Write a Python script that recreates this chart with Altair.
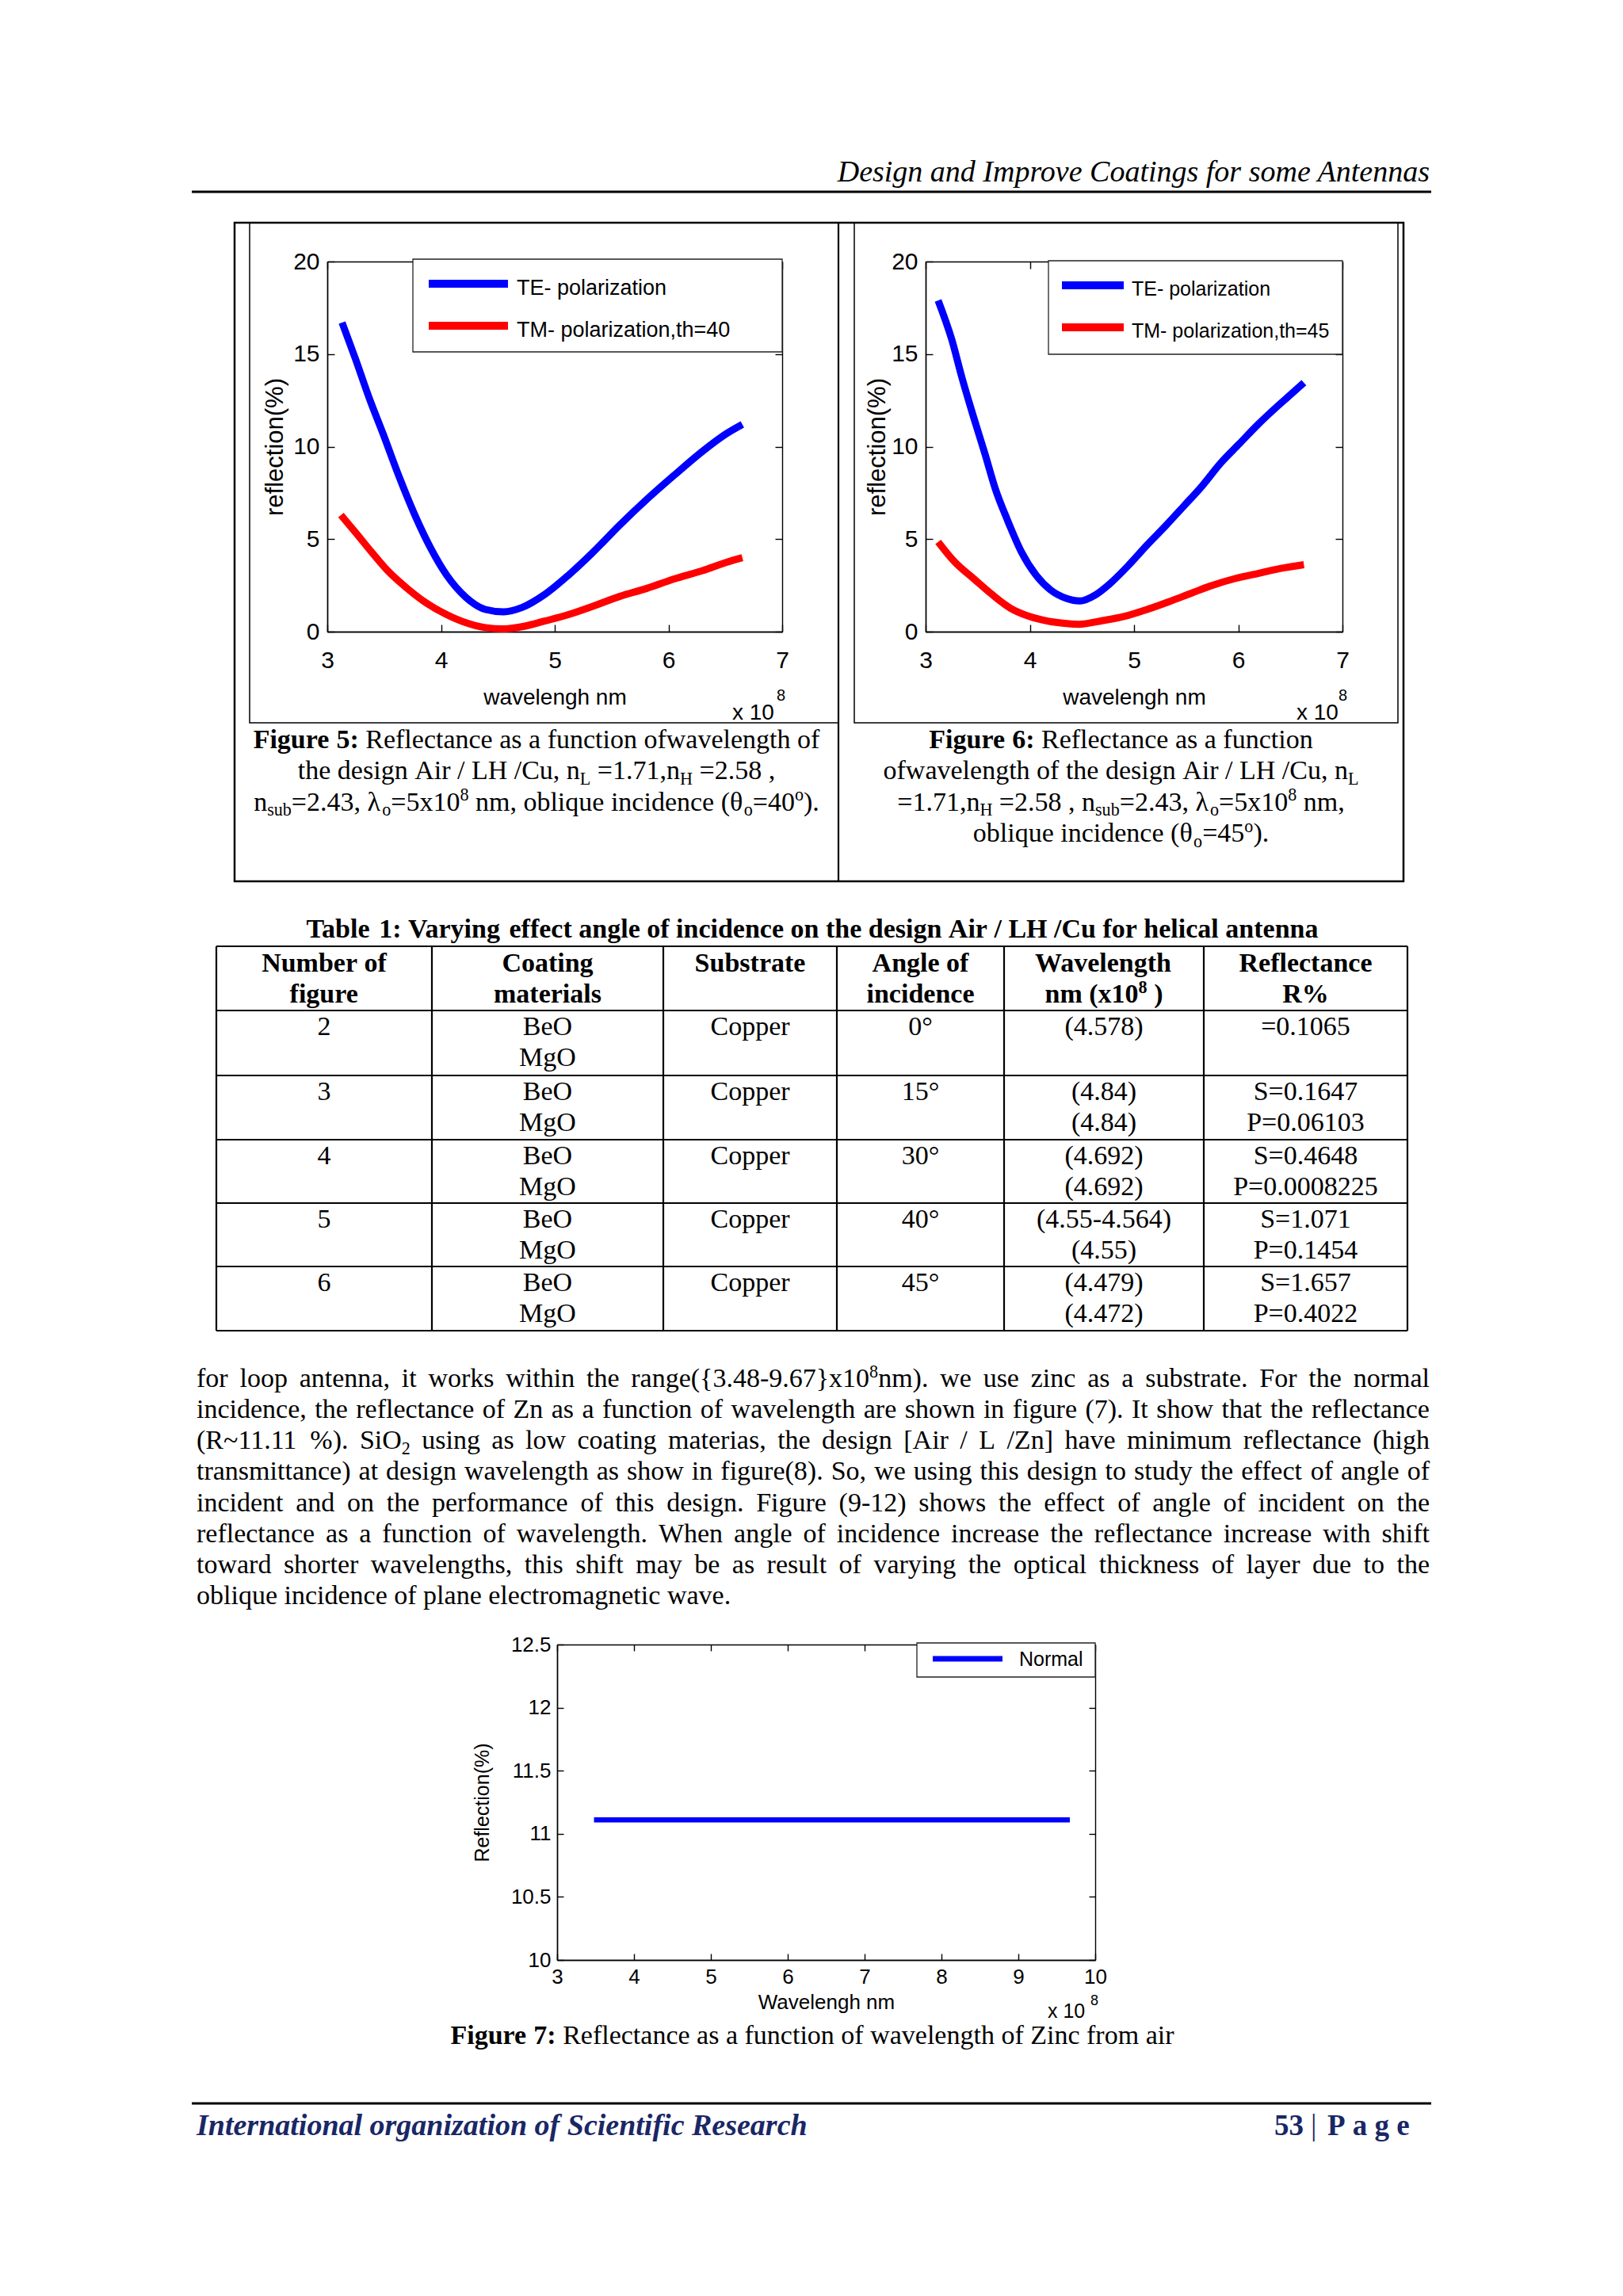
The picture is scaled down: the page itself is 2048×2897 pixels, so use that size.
import altair as alt
import pandas as pd

# ---------------- page geometry helpers ----------------
MARGIN = 8
VIEW_W, VIEW_H = 2032, 2881


def vx(x):
    return x - MARGIN


def vy(y):
    return y - MARGIN


SERIF = "Liberation Serif"
SANS = "Liberation Sans"
NAVY = "#1a2766"

# ---------------- data ----------------
SERIES = ["TE- polarization", "TM- polarization"]
SERIES_COLORS = ["#0000ff", "#ff0000"]

FIG5_TE_WL = [3.13, 3.25, 3.37, 3.49, 3.63, 3.77, 3.91, 4.05, 4.22, 4.39, 4.55, 4.71, 4.91, 5.12, 5.33, 5.57, 5.81, 6.05, 6.30, 6.51, 6.65]
FIG5_TE_R = [16.7, 14.7, 12.6, 10.7, 8.4, 6.3, 4.5, 3.05, 1.85, 1.2, 1.07, 1.3, 2.0, 3.05, 4.25, 5.75, 7.15, 8.45, 9.75, 10.7, 11.2]
FIG5_TM_WL = [3.12, 3.25, 3.39, 3.53, 3.70, 3.87, 4.05, 4.22, 4.39, 4.55, 4.74, 4.91, 5.12, 5.33, 5.57, 5.81, 6.05, 6.30, 6.51, 6.65]
FIG5_TM_R = [6.3, 5.35, 4.3, 3.3, 2.35, 1.55, 0.92, 0.48, 0.22, 0.15, 0.3, 0.57, 0.92, 1.36, 1.9, 2.34, 2.85, 3.3, 3.75, 4.0]

FIG6_TE_WL = [3.12, 3.25, 3.35, 3.46, 3.57, 3.67, 3.78, 3.92, 4.06, 4.20, 4.35, 4.48, 4.63, 4.77, 4.95, 5.12, 5.30, 5.48, 5.65, 5.83, 6.01, 6.19, 6.36, 6.50, 6.63]
FIG6_TE_R = [17.9, 15.8, 13.7, 11.6, 9.6, 7.7, 6.1, 4.3, 3.05, 2.25, 1.8, 1.66, 1.99, 2.6, 3.6, 4.65, 5.7, 6.8, 7.85, 9.1, 10.15, 11.2, 12.1, 12.8, 13.45]
FIG6_TM_WL = [3.12, 3.28, 3.46, 3.64, 3.81, 3.99, 4.17, 4.35, 4.47, 4.70, 4.91, 5.12, 5.34, 5.55, 5.76, 5.97, 6.19, 6.40, 6.63]
FIG6_TM_R = [4.85, 3.76, 2.87, 2.0, 1.28, 0.83, 0.57, 0.44, 0.40, 0.60, 0.83, 1.19, 1.63, 2.08, 2.52, 2.87, 3.14, 3.41, 3.62]

FIG7_WL = [3.48, 9.67]
FIG7_R = [11.11, 11.11]

X_TICKS_56 = [3, 4, 5, 6, 7]
Y_TICKS_56 = [0, 5, 10, 15, 20]
X_TICKS_7 = [3, 4, 5, 6, 7, 8, 9, 10]
Y_TICKS_7 = [10, 10.5, 11, 11.5, 12, 12.5]

TABLE_HEADER = [["Number of", "figure"], ["Coating", "materials"], ["Substrate"],
                ["Angle of", "incidence"], ["Wavelength", "nm (x10^{8} )"], ["Reflectance", "R%"]]
TABLE_FIG = ["2", "3", "4", "5", "6"]
TABLE_COATING = [["BeO", "MgO"]] * 5
TABLE_SUBSTRATE = ["Copper"] * 5
TABLE_ANGLE = ["0°", "15°", "30°", "40°", "45°"]
TABLE_WAVELENGTH = [["(4.578)"], ["(4.84)", "(4.84)"], ["(4.692)", "(4.692)"],
                    ["(4.55-4.564)", "(4.55)"], ["(4.479)", "(4.472)"]]
TABLE_REFL = [["=0.1065"], ["S=0.1647", "P=0.06103"], ["S=0.4648", "P=0.0008225"],
              ["S=1.071", "P=0.1454"], ["S=1.657", "P=0.4022"]]

PARAGRAPH = [
    "for loop antenna, it works within the range({3.48-9.67}x10^{8}nm). we use zinc as a substrate. For the normal",
    "incidence, the reflectance of Zn as a function of wavelength are shown in figure (7). It show that the reflectance",
    "(R~11.11 %). SiO_{2} using as low coating materias, the design [Air / L /Zn]  have minimum reflectance (high",
    "transmittance) at design wavelength as show in figure(8). So, we using this design to study the effect of angle of",
    "incident and on the performance of this design. Figure (9-12) shows the effect of angle of incident on the",
    "reflectance as a function of wavelength. When angle of incidence increase the reflectance increase with shift",
    "toward shorter wavelengths, this shift may be as result of varying the optical thickness of layer due to the",
    "oblique incidence of plane electromagnetic wave.",
]

CAP5 = ["**Figure 5:** Reflectance as a function ofwavelength of",
        "the design Air / LH /Cu, n_{L} =1.71,n_{H} =2.58 ,",
        "n_{sub}=2.43, λ_{o}=5x10^{8} nm, oblique incidence (θ_{o}=40^{o})."]
CAP6 = ["**Figure 6:** Reflectance as a function",
        "ofwavelength of the design Air / LH /Cu, n_{L}",
        "=1.71,n_{H} =2.58 , n_{sub}=2.43, λ_{o}=5x10^{8} nm,",
        "oblique incidence (θ_{o}=45^{o})."]
CAP7 = "**Figure 7:** Reflectance as a function of wavelength of Zinc from air"
TABLE_TITLE = "**Table 1: Varying effect angle of incidence on the design Air / LH /Cu for helical antenna**"

# ---------------- simple text layout (Times metrics) ----------------
TR = {' ': 250, '!': 333, '"': 408, '%': 833, '&': 778, "'": 180, '(': 333, ')': 333, '*': 500, '+': 564,
      ',': 250, '-': 333, '.': 250, '/': 278, ':': 278, ';': 278, '<': 564, '=': 564, '>': 564, '?': 444,
      'A': 722, 'B': 667, 'C': 667, 'D': 722, 'E': 611, 'F': 556, 'G': 722, 'H': 722, 'I': 333, 'J': 389,
      'K': 722, 'L': 611, 'M': 889, 'N': 722, 'O': 722, 'P': 556, 'Q': 722, 'R': 667, 'S': 556, 'T': 611,
      'U': 722, 'V': 722, 'W': 944, 'X': 722, 'Y': 722, 'Z': 611, '[': 333, ']': 333,
      'a': 444, 'b': 500, 'c': 444, 'd': 500, 'e': 444, 'f': 333, 'g': 500, 'h': 500, 'i': 278, 'j': 278,
      'k': 500, 'l': 278, 'm': 778, 'n': 500, 'o': 500, 'p': 500, 'q': 500, 'r': 333, 's': 389, 't': 278,
      'u': 500, 'v': 500, 'w': 722, 'x': 500, 'y': 500, 'z': 444, '{': 480, '|': 200, '}': 480, '~': 541,
      '°': 400, 'λ': 549, 'θ': 521}
for d in "0123456789":
    TR[d] = 500
TB = {' ': 250, ':': 333, '(': 333, ')': 333, '.': 250, ',': 250, '%': 1000, '=': 570, '/': 278, '-': 333,
      'A': 722, 'B': 667, 'C': 722, 'D': 722, 'E': 667, 'F': 611, 'G': 778, 'H': 778, 'I': 389, 'L': 667,
      'M': 944, 'N': 722, 'O': 778, 'P': 611, 'R': 722, 'S': 556, 'T': 667, 'V': 722, 'W': 1000,
      'a': 500, 'b': 556, 'c': 444, 'd': 556, 'e': 444, 'f': 333, 'g': 500, 'h': 556, 'i': 278, 'j': 333,
      'k': 556, 'l': 278, 'm': 833, 'n': 556, 'o': 500, 'p': 556, 'q': 556, 'r': 444, 's': 389, 't': 333,
      'u': 556, 'v': 500, 'w': 722, 'x': 500, 'y': 500, 'z': 444}
for d in "0123456789":
    TB[d] = 500

SMALL = 0.65


def parse_markup(s):
    chars = []
    bold = False
    i = 0
    while i < len(s):
        if s.startswith("**", i):
            bold = not bold
            i += 2
            continue
        if s[i] in "^_" and i + 1 < len(s) and s[i + 1] == "{":
            j = s.index("}", i + 2)
            st = "sup" if s[i] == "^" else "sub"
            for ch in s[i + 2:j]:
                chars.append((ch, st, bold))
            i = j + 1
            continue
        chars.append((s[i], "base", bold))
        i += 1
    words, cur = [], []
    for ch, st, b in chars:
        if ch == " " and st == "base":
            if cur:
                words.append(cur)
                cur = []
        else:
            cur.append((ch, st, b))
    if cur:
        words.append(cur)
    out = []
    for w in words:
        segs = []
        for ch, st, b in w:
            if segs and segs[-1][1] == st and segs[-1][2] == b:
                segs[-1][0] += ch
            else:
                segs.append([ch, st, b])
        out.append(segs)
    return out


def seg_width(text, st, bold, size):
    tab = TB if bold else TR
    fs = size * (SMALL if st != "base" else 1.0)
    return sum(tab.get(c, TR.get(c, 500)) for c in text) / 1000.0 * fs


def layout(markup, x, y, size, align="left", justify_to=None, family=SERIF, color="black", italic=False):
    words = parse_markup(markup)
    ww = [sum(seg_width(t, st, b, size) for t, st, b in w) for w in words]
    space = 0.25 * size
    total = sum(ww) + space * (len(words) - 1)
    if justify_to is not None and len(words) > 1:
        gap = (justify_to - x - sum(ww)) / (len(words) - 1)
        start = x
    else:
        gap = space
        if align == "center":
            start = x - total / 2
        elif align == "right":
            start = x - total
        else:
            start = x
    rows = []
    cx = start
    for w, wl in zip(words, ww):
        for t, st, b in w:
            fs = size * (SMALL if st != "base" else 1.0)
            dy = -0.36 * size if st == "sup" else (0.2 * size if st == "sub" else 0.0)
            rows.append(dict(px=vx(cx), py=vy(y + dy), text=t, size=fs, bold=b,
                             family=family, italic=italic, color=color))
            cx += seg_width(t, st, b, size)
        cx += gap
    return rows


def text_layers(rows):
    df = pd.DataFrame(rows)
    layers = []
    for (fam, bold, ital, col), g in df.groupby(["family", "bold", "italic", "color"]):
        g = g[["px", "py", "text", "size"]].reset_index(drop=True)
        layers.append(
            alt.Chart(g).mark_text(align="left", baseline="alphabetic", font=fam,
                                   fontWeight="bold" if bold else "normal",
                                   fontStyle="italic" if ital else "normal", color=col)
            .encode(x=alt.X("px:Q", scale=None, axis=None),
                    y=alt.Y("py:Q", scale=None, axis=None),
                    text=alt.Text("text:N"),
                    size=alt.Size("size:Q", scale=None, legend=None))
        )
    return layers


# ---------------- collect text ----------------
rows = []
BODY = 34
for k, line in enumerate(CAP5):
    rows += layout(line, 677, 944 + 39.3 * k, BODY, align="center")
for k, line in enumerate(CAP6):
    rows += layout(line, 1414.5, 944 + 39.3 * k, BODY, align="center")
rows += layout(TABLE_TITLE, 1025, 1183, BODY, align="center")
COLS = [273, 545, 837, 1056, 1267, 1519, 1776]
ROWS = [1194, 1275, 1357, 1438, 1518, 1598, 1679]
centers = [(COLS[i] + COLS[i + 1]) / 2 for i in range(6)]
for c, lines in enumerate(TABLE_HEADER):
    for k, ln in enumerate(lines):
        rows += layout("**" + ln + "**", centers[c], ROWS[0] + 32 + 39 * k, BODY, align="center")
for r in range(5):
    cells = [[TABLE_FIG[r]], TABLE_COATING[r], [TABLE_SUBSTRATE[r]], [TABLE_ANGLE[r]],
             TABLE_WAVELENGTH[r], TABLE_REFL[r]]
    for c, lines in enumerate(cells):
        for k, ln in enumerate(lines):
            rows += layout(ln, centers[c], ROWS[r + 1] + 31 + 39 * k, BODY, align="center")
for k, line in enumerate(PARAGRAPH):
    jt = 1804 if k < len(PARAGRAPH) - 1 else None
    rows += layout(line, 248, 1750 + 39.15 * k, BODY, justify_to=jt)
rows += layout(CAP7, 1025, 2579, BODY, align="center")
rows += layout("**53**", 1608, 2694, 37, color=NAVY)
rows += layout("|", 1654, 2694, 37, color=NAVY)
rows += layout("**P a g e**", 1675, 2694, 37, color=NAVY)

# plot annotation texts (sans)
def srow(x, y, text, size):
    return dict(px=vx(x), py=vy(y), text=text, size=size, bold=False, family=SANS, italic=False, color="black")


srows = [
    srow(924, 908, "x 10", 28), srow(980, 884, "8", 20),
    srow(1636, 908, "x 10", 28), srow(1689, 884, "8", 20),
    srow(1322, 2546, "x 10", 25), srow(1376, 2530, "8", 18),
    srow(652, 372, "TE- polarization", 27), srow(652, 425, "TM- polarization,th=40", 27),
    srow(1428, 373, "TE- polarization", 25), srow(1428, 426, "TM- polarization,th=45", 25),
    srow(1286, 2102, "Normal", 25),
]

# ---------------- rules & rectangles ----------------
rule_rows = [
    dict(x=vx(242), x2=vx(1806), y=vy(242), y2=vy(242), sw=3),
    dict(x=vx(242), x2=vx(1806), y=vy(2654), y2=vy(2654), sw=3),
    dict(x=vx(1058), x2=vx(1058), y=vy(281), y2=vy(1112), sw=2.2),
]
for yy in ROWS:
    rule_rows.append(dict(x=vx(COLS[0]), x2=vx(COLS[-1]), y=vy(yy), y2=vy(yy), sw=2.2))
for xx in COLS:
    rule_rows.append(dict(x=vx(xx), x2=vx(xx), y=vy(ROWS[0]), y2=vy(ROWS[-1]), sw=2.2))
rules = alt.Chart(pd.DataFrame(rule_rows)).mark_rule(color="black").encode(
    x=alt.X("x:Q", scale=None, axis=None), x2="x2:Q",
    y=alt.Y("y:Q", scale=None, axis=None), y2="y2:Q",
    strokeWidth=alt.StrokeWidth("sw:Q", scale=None, legend=None))

rect_rows = [
    dict(x=vx(296), x2=vx(1771), y=vy(281), y2=vy(1112), sw=2.5),
    dict(x=vx(315), x2=vx(1058), y=vy(281), y2=vy(912), sw=1.5),
    dict(x=vx(1078), x2=vx(1764), y=vy(281), y2=vy(912), sw=1.5),
]
rects = alt.Chart(pd.DataFrame(rect_rows)).mark_rect(fillOpacity=0, stroke="black").encode(
    x=alt.X("x:Q", scale=None, axis=None), x2="x2:Q",
    y=alt.Y("y:Q", scale=None, axis=None), y2="y2:Q",
    strokeWidth=alt.StrokeWidth("sw:Q", scale=None, legend=None))

leg_box_rows = [
    dict(x=vx(521), x2=vx(987), y=vy(327), y2=vy(444)),
    dict(x=vx(1323), x2=vx(1694), y=vy(329), y2=vy(447)),
    dict(x=vx(1157), x2=vx(1382), y=vy(2073), y2=vy(2116)),
]
leg_boxes = alt.Chart(pd.DataFrame(leg_box_rows)).mark_rect(fill="white", stroke="#222222", strokeWidth=1.3).encode(
    x=alt.X("x:Q", scale=None, axis=None), x2="x2:Q",
    y=alt.Y("y:Q", scale=None, axis=None), y2="y2:Q")
leg_line_rows = [
    dict(x=vx(541), x2=vx(641), y=vy(358), c=SERIES_COLORS[0], sw=10),
    dict(x=vx(541), x2=vx(641), y=vy(411), c=SERIES_COLORS[1], sw=10),
    dict(x=vx(1340), x2=vx(1418), y=vy(360), c=SERIES_COLORS[0], sw=10),
    dict(x=vx(1340), x2=vx(1418), y=vy(413), c=SERIES_COLORS[1], sw=10),
    dict(x=vx(1177), x2=vx(1265), y=vy(2093), c=SERIES_COLORS[0], sw=7),
]
leg_lines = alt.Chart(pd.DataFrame(leg_line_rows)).mark_rule(strokeCap="butt").encode(
    x=alt.X("x:Q", scale=None, axis=None), x2="x2:Q",
    y=alt.Y("y:Q", scale=None, axis=None),
    color=alt.Color("c:N", scale=None, legend=None),
    strokeWidth=alt.StrokeWidth("sw:Q", scale=None, legend=None))


# ---------------- plot panels ----------------
def panel(df, xdom, ydom, px0, px1, py_top, py_bot, xticks, yticks, xtitle, ytitle,
          tick_len, label_size, xlab_base, ylab_pad, title_size, xtitle_base, ytitle_x, ytitle_size,
          line_w, color_enc=None, line_color=None):
    x0, x1, yt, yb = vx(px0), vx(px1), vy(py_top), vy(py_bot)
    xs = alt.Scale(domain=xdom, range=[x0, x1], nice=False, zero=False)
    ys = alt.Scale(domain=ydom, range=[yb, yt], nice=False, zero=False)
    common = dict(grid=False, domainColor="black", domainWidth=1.4, tickColor="black", tickWidth=1.4)
    x_main = alt.X("w:Q", scale=xs, axis=alt.Axis(
        orient="bottom", offset=yb - VIEW_H, values=xticks, format="~f", ticks=False, tickSize=0,
        labelPadding=xlab_base - py_bot, labelBaseline="alphabetic", labelFont=SANS, labelFontSize=label_size,
        labelColor="black", labelFlush=False, labelOverlap=False,
        title=xtitle, titleFont=SANS, titleFontSize=title_size, titleFontWeight="normal", titleColor="black",
        titleX=(x0 + x1) / 2, titleY=xtitle_base - py_bot, titleBaseline="alphabetic", titleAlign="center",
        **common))
    y_main = alt.Y("r:Q", scale=ys, axis=alt.Axis(
        orient="left", offset=-x0, values=yticks, format="~f", ticks=False, tickSize=0,
        labelPadding=ylab_pad, labelBaseline="middle", labelFont=SANS, labelFontSize=label_size,
        labelColor="black", labelFlush=False, labelOverlap=False,
        title=ytitle, titleFont=SANS, titleFontSize=ytitle_size, titleFontWeight="normal", titleColor="black",
        titleX=ytitle_x - px0, titleY=(yt + yb) / 2, titleBaseline="middle", titleAlign="center",
        titleAngle=270, **common))
    if color_enc is not None:
        main = alt.Chart(df).mark_line(strokeWidth=line_w, interpolate="monotone", strokeCap="butt").encode(
            x=x_main, y=y_main, color=color_enc, detail="series:N")
    else:
        main = alt.Chart(df).mark_line(strokeWidth=line_w, strokeCap="butt", color=line_color).encode(
            x=x_main, y=y_main)
    fa = alt.Chart(df).mark_point(opacity=0).encode(
        x=alt.X("w:Q", scale=xs, axis=alt.Axis(orient="top", offset=-yb, values=xticks, labels=False,
                                                ticks=True, tickSize=tick_len, title=None, **common)),
        y=alt.Y("r:Q", scale=ys, axis=alt.Axis(orient="right", offset=x0 - VIEW_W, values=yticks, labels=False,
                                                ticks=True, tickSize=tick_len, title=None, **common)))
    fb = alt.Chart(df).mark_point(opacity=0).encode(
        x=alt.X("w:Q", scale=xs, axis=alt.Axis(orient="bottom", offset=yt - VIEW_H, values=xticks, labels=False,
                                                ticks=True, tickSize=tick_len, title=None, **common)),
        y=alt.Y("r:Q", scale=ys, axis=alt.Axis(orient="left", offset=-x1, values=yticks, labels=False,
                                                ticks=True, tickSize=tick_len, title=None, **common)))
    return alt.layer(main, fa, fb).resolve_axis(x="independent", y="independent")


def two_series(te_wl, te_r, tm_wl, tm_r):
    return pd.DataFrame({
        "w": list(te_wl) + list(tm_wl),
        "r": list(te_r) + list(tm_r),
        "series": [SERIES[0]] * len(te_wl) + [SERIES[1]] * len(tm_wl),
    })


color_enc = alt.Color("series:N", scale=alt.Scale(domain=SERIES, range=SERIES_COLORS), legend=None)

panel5 = panel(two_series(FIG5_TE_WL, FIG5_TE_R, FIG5_TM_WL, FIG5_TM_R), [3, 7], [0, 20],
               413, 987, 330, 797, X_TICKS_56, Y_TICKS_56, "wavelengh nm", "reflection(%)",
               9, 30, 842, 10, 28, 888, 347, 31, 9, color_enc=color_enc)
panel6 = panel(two_series(FIG6_TE_WL, FIG6_TE_R, FIG6_TM_WL, FIG6_TM_R), [3, 7], [0, 20],
               1168, 1694, 330, 797, X_TICKS_56, Y_TICKS_56, "wavelengh nm", "reflection(%)",
               9, 30, 842, 10, 28, 888, 1107, 31, 9, color_enc=color_enc)
panel7 = panel(pd.DataFrame({"w": FIG7_WL, "r": FIG7_R}), [3, 10], [10, 12.5],
               703, 1382, 2075, 2473, X_TICKS_7, Y_TICKS_7, "Wavelengh nm", "Reflection(%)",
               8, 26, 2502, 8, 26, 2534, 608, 25, 6.5, line_color="#0000ff")

header = alt.Chart(pd.DataFrame({"px": [vx(1804)], "py": [vy(229)],
                                 "text": ["Design and Improve Coatings for some Antennas"]})).mark_text(
    align="right", baseline="alphabetic", font=SERIF, fontStyle="italic", fontSize=38, color="black").encode(
    x=alt.X("px:Q", scale=None, axis=None), y=alt.Y("py:Q", scale=None, axis=None), text="text:N")

footer = alt.Chart(pd.DataFrame({"px": [vx(248)], "py": [vy(2694)],
                                 "text": ["International organization of Scientific Research"]})).mark_text(
    align="left", baseline="alphabetic", font=SERIF, fontStyle="italic", fontWeight="bold", fontSize=38,
    color=NAVY).encode(
    x=alt.X("px:Q", scale=None, axis=None), y=alt.Y("py:Q", scale=None, axis=None), text="text:N")

layers = ([rects, rules, header, footer] + text_layers(rows) +
          [panel5, panel6, panel7, leg_boxes, leg_lines] + text_layers(srows))

chart = alt.layer(*layers).resolve_scale(
    x="independent", y="independent", color="independent", size="independent", strokeWidth="independent"
).properties(
    width=VIEW_W, height=VIEW_H, padding=0, autosize=alt.AutoSizeParams(type="none")
).configure_view(strokeWidth=0)

chart.save("out.html", embed_options={"renderer": "svg", "actions": False})
